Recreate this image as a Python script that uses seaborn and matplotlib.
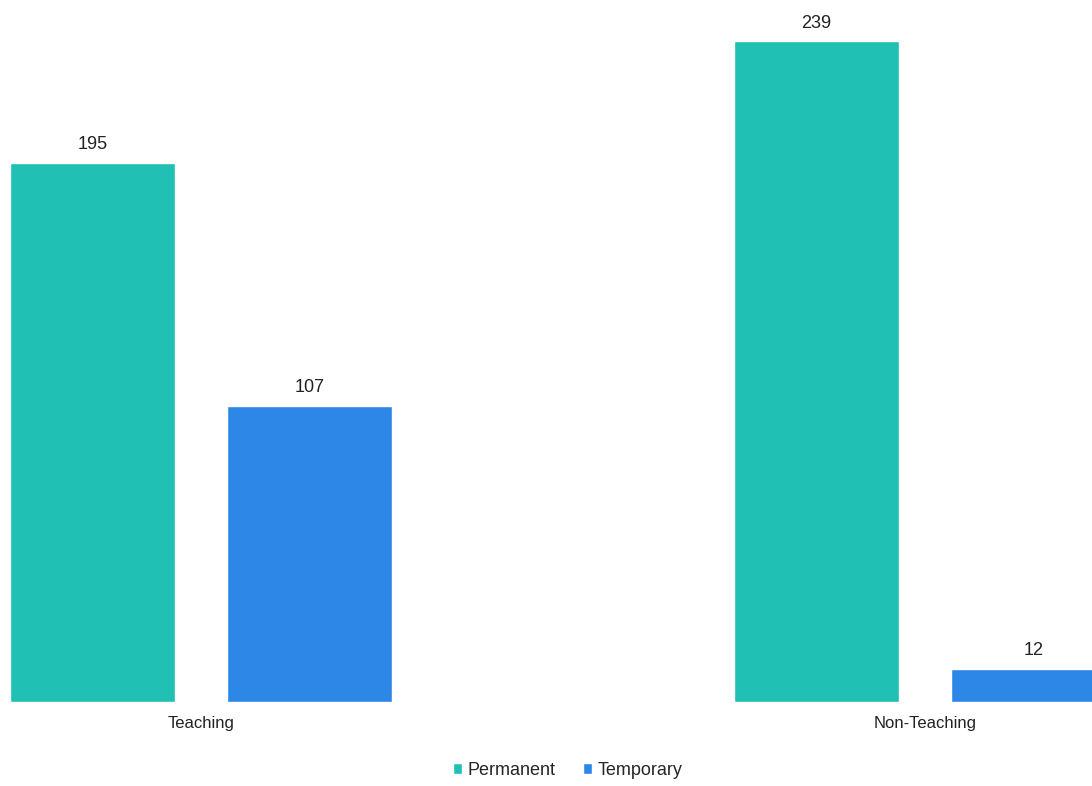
import pandas as pd
import matplotlib
matplotlib.use("Agg")
import matplotlib.pyplot as plt
import seaborn as sns

# Datos
grupos = ["Teaching", "Non-Teaching"]
tipos = ["Permanent", "Temporary"]
permanent = [195, 239]
temporary = [107, 12]

colores = {"Permanent": "#20c0b4", "Temporary": "#2d87e6"}

datos = pd.DataFrame({
    "Grupo": grupos * 2,
    "Tipo": [tipos[0]] * 2 + [tipos[1]] * 2,
    "Valor": permanent + temporary,
})

sns.set_style("white")
plt.rcParams["font.family"] = ["Liberation Sans", "DejaVu Sans"]

fig = plt.figure(figsize=(10.92, 7.86), dpi=100)
ax = fig.add_axes([0, 0.107, 1, 0.893])

sns.barplot(data=datos, x="Grupo", y="Valor", hue="Tipo", order=grupos,
            hue_order=tipos, palette=colores, width=0.6, gap=0.24,
            saturation=1, ax=ax, legend=True)

# etiquetas de valor encima de cada barra
for cont in ax.containers:
    ax.bar_label(cont, padding=7, fontsize=13, color="#222222")

ax.set_xlim(-0.278, 1.231)
ax.set_ylim(0, 254)
ax.set_xlabel("")
ax.set_ylabel("")
ax.set_yticks([])
ax.tick_params(axis="x", length=0, pad=10, labelsize=12, labelcolor="#222222")
sns.despine(ax=ax, left=True, bottom=True)

handles, labels = ax.get_legend_handles_labels()
ax.get_legend().remove()
fig.legend(handles, labels, loc="center", bbox_to_anchor=(0.52, 0.02), ncol=2,
           frameon=False, handlelength=0.5, handleheight=0.5, handletextpad=0.3,
           columnspacing=1.5, fontsize=13)

fig.savefig("out.png", dpi=100)
